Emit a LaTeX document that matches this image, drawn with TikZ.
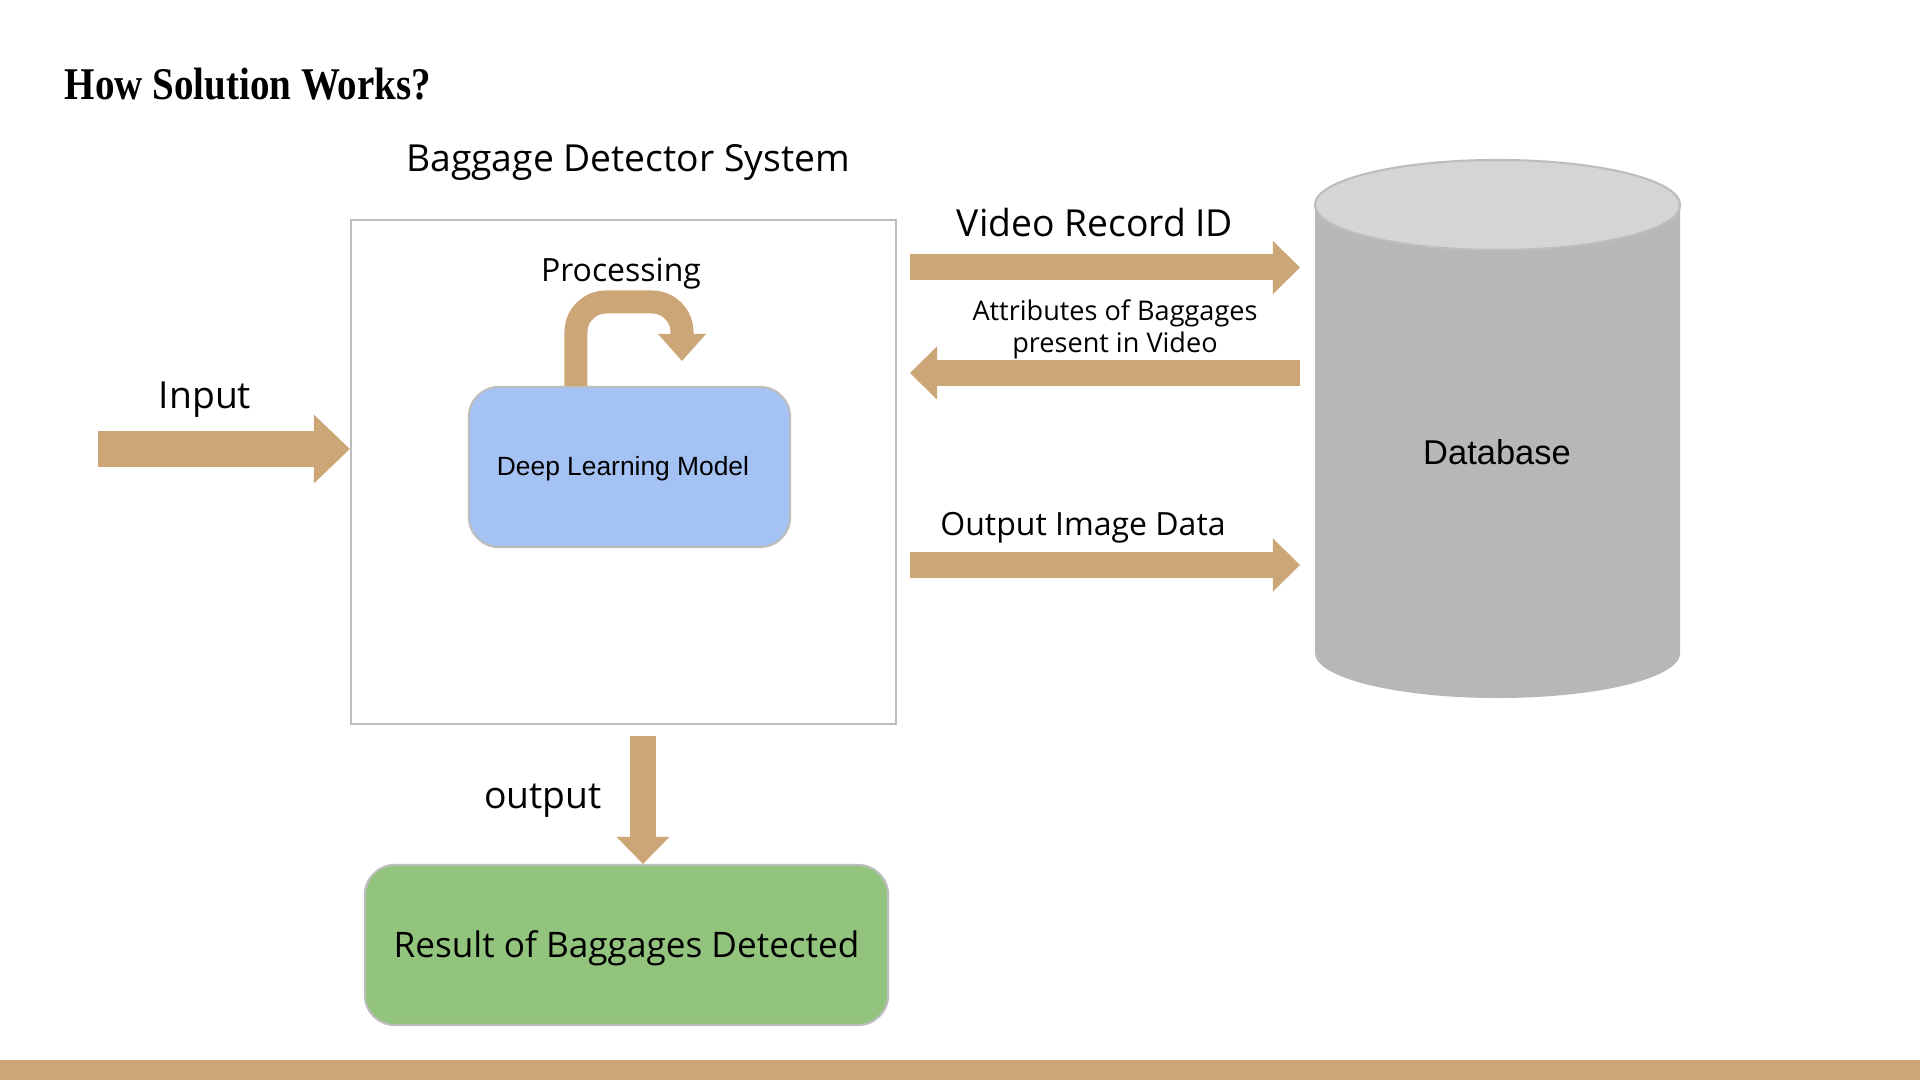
\documentclass[tikz,border=0pt]{standalone}
\usepackage{fontspec}
\setmainfont{Open Sans}
\newfontfamily\arialfont{Liberation Sans}
\newfontfamily\titlefont[FakeStretch=0.86]{Liberation Serif}
\usetikzlibrary{arrows.meta, positioning, calc}

\definecolor{cTan}{RGB}{204,166,119}
\definecolor{cBlue}{HTML}{A4C2F4}
\definecolor{cGreen}{HTML}{93C47D}
\definecolor{cBody}{HTML}{B7B7B7}
\definecolor{cTop}{HTML}{D5D5D5}
\definecolor{cEdge}{HTML}{BDBDBD}

\begin{document}
\begin{tikzpicture}[x=0.01cm, y=-0.01cm,
    flow/.style={draw=cTan, line width=0.26cm, -{Triangle[length=0.27cm, width=0.53cm, line width=0pt]}},
    roundbox/.style={draw=cEdge, line width=0.6pt, rounded corners=0.3cm, inner sep=0pt, text depth=0pt},
    lbl/.style={inner sep=0pt, font=\fontsize{10.6}{12.5}\selectfont}]
\fill[white] (0,0) rectangle (1920,1080);
\useasboundingbox (0,0) rectangle (1920,1080);
%title and bottom band
\node[anchor=base west, inner sep=0pt, font=\titlefont\bfseries\fontsize{12.9}{15}\selectfont] (title) at (64,100) {How Solution Works?};
\fill[cTan] (0,1060) rectangle (1920,1080);

%system box
\node[lbl] (sysLbl) at (628,162) {Baggage Detector System};
\node[draw=cEdge, line width=0.6pt, minimum width=5.45cm, minimum height=5.04cm] (sys) at (623.5,472) {};
\node[inner sep=0pt, font=\fontsize{9.1}{11}\selectfont] (procLbl) at (621,274) {Processing};

%processing loop
\coordinate (loopEnd) at (682,361);
\draw[draw=cTan, line width=0.23cm, rounded corners=0.3cm, -{Triangle[length=0.27cm, width=0.48cm, line width=0pt]}]
    ([xshift=-0.535cm]629.5,387) |- (682,302) -- (loopEnd);
\node[roundbox, fill=cBlue, minimum width=3.21cm, minimum height=1.6cm, text height=0.18cm, font=\arialfont\fontsize{7.5}{9}\selectfont] (dlm) at (629.5,467) {\kern-0.13cm Deep Learning Model};

%database cylinder
\coordinate (dbTop) at (1497.5,205);
\coordinate (dbBot) at (1497.5,653);
\coordinate (dbIn) at (1300,429);
\fill[cBody] (1315,205) -- (1315,653) arc[start angle=180, end angle=360, x radius=1.825cm, y radius=0.45cm] -- (1680,205) -- cycle;
\draw[draw=cEdge, fill=cTop, line width=0.6pt] (dbTop) ellipse [x radius=1.825cm, y radius=0.45cm];
\node[inner sep=0pt, font=\arialfont\fontsize{9.8}{12}\selectfont] (dbLbl) at (1497,452) {Database};

%input
\coordinate (inStart) at (98,449);
\node[lbl] (inLbl) at (205,400) {Input};
\draw[draw=cTan, line width=0.36cm, -{Triangle[length=0.36cm, width=0.69cm, line width=0pt]}] (inStart) -- (inStart -| sys.west);

%links to the database
\coordinate (vidStart) at (910,267.5);
\coordinate (attStart) at (910,373);
\coordinate (imgStart) at (910,565);
\node[lbl] (vidLbl) at (1095,223) {Video Record ID};
\node[inner sep=0pt, align=center, font=\fontsize{7.7}{9.1}\selectfont] (attLbl) at (1115,329) {Attributes of Baggages\\present in Video};
\node[inner sep=0pt, font=\fontsize{9.1}{11}\selectfont] (imgLbl) at (1083,528) {Output Image Data};
\draw[flow] (vidStart) -- (vidStart -| dbIn);
\draw[flow] (attStart -| dbIn) -- (attStart);
\draw[flow] (imgStart) -- (imgStart -| dbIn);

%result
\node[roundbox, fill=cGreen, minimum width=5.23cm, minimum height=1.6cm, text height=0.25cm, font=\fontsize{10}{12}\selectfont] (res) at (626.5,945) {Result of Baggages Detected};
\coordinate (outStart) at (643,736);
\node[lbl] (outLbl) at (543,801) {output};
\draw[flow] (outStart) -- (outStart |- res.north);
\end{tikzpicture}
\end{document}
